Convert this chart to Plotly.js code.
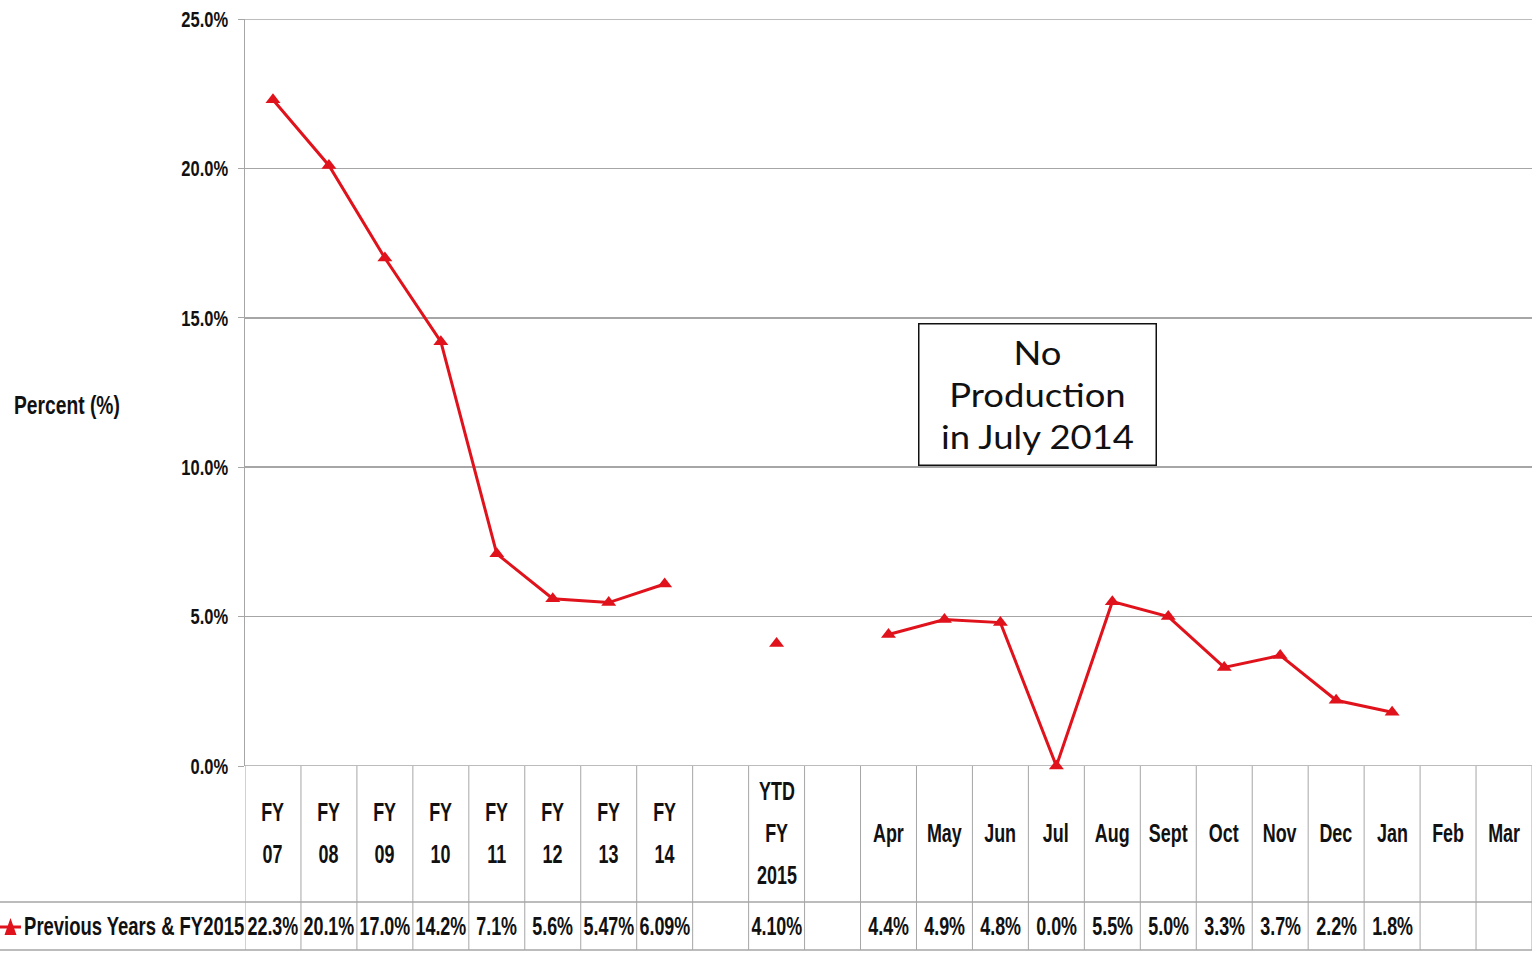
<!DOCTYPE html>
<html>
<head>
<meta charset="utf-8">
<script src="https://cdn.plot.ly/plotly-3.0.1.min.js"></script>
<style>
html,body{margin:0;padding:0;background:#fff;}
#chart{width:1532px;height:955px;}
</style>
</head>
<body>
<div id="chart"></div>
<script>
// ---- data ----
const categories = ["FY 07","FY 08","FY 09","FY 10","FY 11","FY 12","FY 13","FY 14","","YTD FY 2015","","Apr","May","Jun","Jul","Aug","Sept","Oct","Nov","Dec","Jan","Feb","Mar"];
const values = [22.3,20.1,17.0,14.2,7.1,5.6,5.47,6.09,null,4.10,null,4.4,4.9,4.8,0.0,5.5,5.0,3.3,3.7,2.2,1.8,null,null];
const tableLabels = ["22.3%","20.1%","17.0%","14.2%","7.1%","5.6%","5.47%","6.09%","","4.10%","","4.4%","4.9%","4.8%","0.0%","5.5%","5.0%","3.3%","3.7%","2.2%","1.8%","",""];
const seriesName = "Previous Years & FY2015";
const yTickVals = [0,5,10,15,20,25];
const yTickText = ["0.0%","5.0%","10.0%","15.0%","20.0%","25.0%"];
const yAxisTitle = "Percent (%)";
const noteText = "No<br>Production<br>in July 2014";

// ---- layout constants ----
const W = 1532, H = 955;
const L = 245, R = 0, T = 19, B = 189;
const plotH = H - T - B;
const py = (pix) => (H - B - pix) / plotH;   // pixel row -> paper y
const px = (pix) => (pix - L) / (W - L - R); // pixel col -> paper x
const boldFam = "Liberation Sans, Arial, sans-serif";
const red = "#e0121b";
const gridCol = "#a6a6a6";
const NARROW = 0.69;

const xIdx = categories.map((c, i) => i);

const trace = {
  x: xIdx, y: values, type: "scatter", mode: "lines+markers",
  name: seriesName, connectgaps: false, cliponaxis: false,
  line: {color: red, width: 3},
  marker: {symbol: "triangle-up", size: 13, color: red}
};

const shapes = [];
const annotations = [];
const annScale = [];   // [scaleX, anchorMode] per annotation
function addAnn(a, s, mode) { annotations.push(a); annScale.push([s, mode]); }

// horizontal lines at 0% and 25%
[0, 25].forEach(v => shapes.push({type: "line", xref: "paper", yref: "y", x0: 0, x1: 1, y0: v, y1: v,
  line: {color: gridCol, width: 1.5}, layer: "below"}));

// table grid
const rowTop = py(766), rowMid = py(902), rowBot = py(950);
for (let k = 0; k <= categories.length; k++) {
  shapes.push({type: "line", xref: "x", yref: "paper", x0: k - 0.5, x1: k - 0.5, y0: rowBot, y1: rowTop,
    line: {color: gridCol, width: 1}});
}
[rowMid, rowBot].forEach(yy => shapes.push({type: "line", xref: "paper", yref: "paper",
  x0: px(0), x1: 1, y0: yy, y1: yy, line: {color: gridCol, width: 1.5}}));

const tblFont = {family: boldFam, size: 26, weight: 700, color: "#111"};

// category labels (one word per line) and value row
categories.forEach((c, i) => {
  if (!c) return;
  const words = c.split(" ");
  const spacing = 42;
  words.forEach((w, j) => {
    const yc = 833 + (j - (words.length - 1) / 2) * spacing;
    addAnn({xref: "x", yref: "paper", x: i, y: py(yc), text: w, showarrow: false,
      xanchor: "center", yanchor: "middle", font: tblFont}, NARROW, "center");
  });
});
tableLabels.forEach((t, i) => {
  if (!t) return;
  addAnn({xref: "x", yref: "paper", x: i, y: py(926), text: t, showarrow: false,
    xanchor: "center", yanchor: "middle", font: tblFont}, NARROW, "center");
});

// legend key in table
shapes.push({type: "line", xref: "paper", yref: "paper", x0: px(0), x1: px(21), y0: py(927), y1: py(927),
  line: {color: red, width: 3}});
shapes.push({type: "path", xref: "paper", yref: "paper",
  path: `M ${px(4.5)} ${py(935)} L ${px(16.5)} ${py(935)} L ${px(10.5)} ${py(918)} Z`,
  fillcolor: red, line: {color: red, width: 0}});
addAnn({xref: "paper", yref: "paper", x: px(22), y: py(926), text: seriesName, showarrow: false,
  xanchor: "left", yanchor: "middle", font: tblFont}, 0.71, "left");

// y-axis title
addAnn({xref: "paper", yref: "paper", x: px(12), y: py(405), text: yAxisTitle, showarrow: false,
  xanchor: "left", yanchor: "middle", font: {family: boldFam, size: 26, weight: 700, color: "#111"}}, 0.74, "left");

// note box
addAnn({xref: "paper", yref: "paper", x: px(1037), y: py(394), text: noteText, showarrow: false,
  xanchor: "center", yanchor: "middle", width: 236, height: 140, borderpad: 0,
  bordercolor: "#111", borderwidth: 1.5, bgcolor: "#fff",
  font: {family: "Lato, Open Sans, sans-serif", size: 32, color: "#111"}}, 1.14, "center");

const layout = {
  width: W, height: H,
  margin: {l: L, r: R, t: T, b: B, pad: 0},
  paper_bgcolor: "#fff", plot_bgcolor: "#fff",
  showlegend: false,
  xaxis: {range: [-0.5, categories.length - 0.5], showgrid: false, zeroline: false,
    showticklabels: false, ticks: "", showline: false, fixedrange: true},
  yaxis: {range: [0, 25], tickvals: yTickVals, ticktext: yTickText,
    showgrid: true, gridcolor: gridCol, gridwidth: 1.5, zeroline: false,
    showline: true, linecolor: gridCol, linewidth: 1.5,
    ticks: "outside", ticklen: 6, tickcolor: gridCol, ticklabelstandoff: 5,
    tickfont: {family: boldFam, size: 22, weight: 700, color: "#111"}, fixedrange: true},
  shapes: shapes,
  annotations: annotations
};

function squeeze(el, s, mode) {
  const bb = el.getBBox();
  const ax = mode === "left" ? bb.x : mode === "right" ? bb.x + bb.width : bb.x + bb.width / 2;
  const t = el.getAttribute("transform") || "";
  el.setAttribute("transform", `${t} translate(${ax},0) scale(${s},1) translate(${-ax},0)`);
}

Plotly.newPlot("chart", [trace], layout, {staticPlot: true, displayModeBar: false}).then(gd => {
  gd.querySelectorAll(".ytick text").forEach(el => squeeze(el, 0.75, "right"));
  annScale.forEach(([s, mode], i) => {
    const el = gd.querySelector(`.annotation[data-index="${i}"] text.annotation-text`);
    if (el && s !== 1) squeeze(el, s, mode);
  });
});
</script>
</body>
</html>
